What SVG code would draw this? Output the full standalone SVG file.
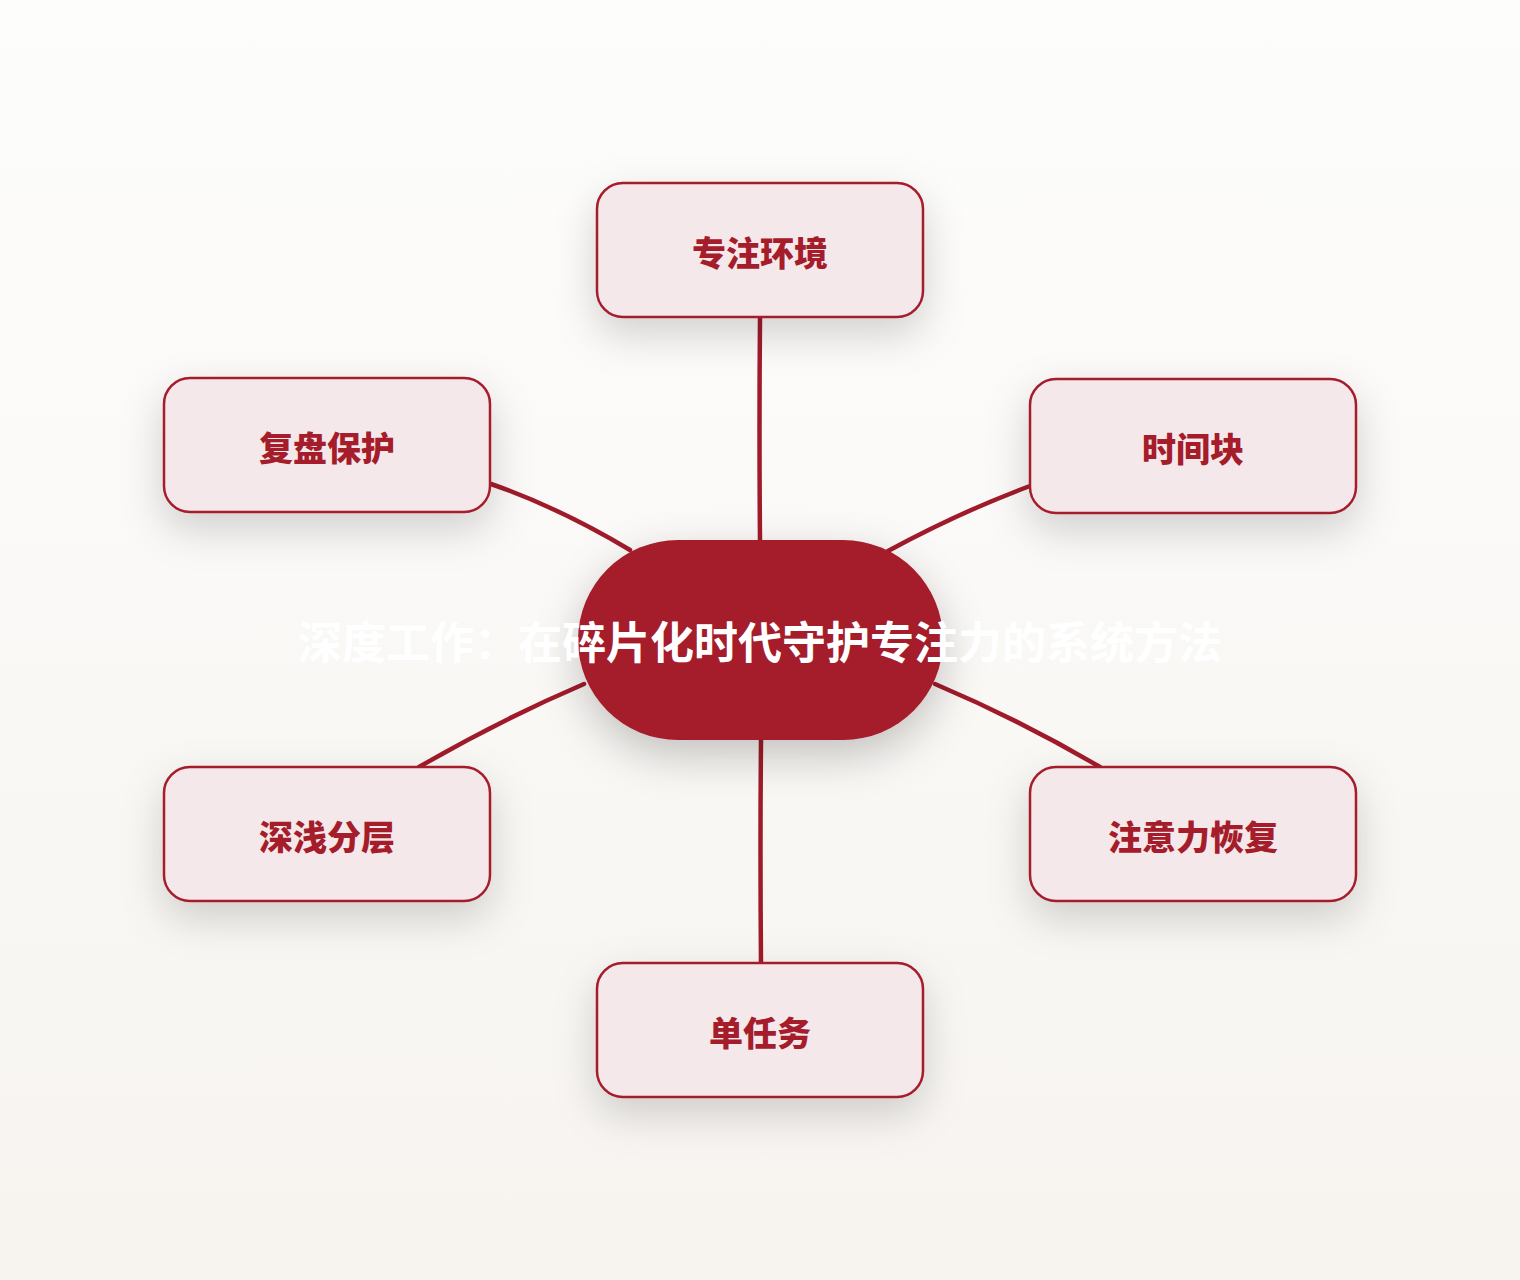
<svg xmlns="http://www.w3.org/2000/svg" width="1520" height="1280" viewBox="0 0 1520 1280">
<defs>
<linearGradient id="bg" x1="0" y1="0" x2="0" y2="1">
<stop offset="0" stop-color="#fdfdfc"/>
<stop offset="1" stop-color="#f7f4f0"/>
</linearGradient>
<filter id="shadow" x="-40%" y="-40%" width="180%" height="200%">
<feDropShadow dx="0" dy="16" stdDeviation="20" flood-color="#000" flood-opacity="0.17"/>
</filter>
<filter id="shadowC" x="-40%" y="-40%" width="180%" height="200%">
<feDropShadow dx="0" dy="16" stdDeviation="22" flood-color="#000" flood-opacity="0.22"/>
</filter>
</defs>
<style>
.edge{fill:none;stroke:#a01b2a;stroke-width:4.5;stroke-linecap:round}
.box{fill:#f5e8eb;stroke:#a51c2b;stroke-width:2.5}
.lbl{font-family:"Noto Sans CJK SC","Noto Sans",sans-serif;font-weight:900;font-size:34px;fill:#a51c2b;text-anchor:middle}
.ctr{font-family:"Noto Sans CJK SC","Noto Sans",sans-serif;font-weight:700;font-size:44px;fill:#ffffff;text-anchor:middle}
</style>
<rect width="1520" height="1280" fill="url(#bg)"/>
<g id="connectors">
<path class="edge" d="M760,318 Q759,430 760,541"/>
<path class="edge" d="M491,484 Q560,508 630,550"/>
<path class="edge" d="M1030,486 Q960,512 888,551"/>
<path class="edge" d="M584,684 Q500,720 419,767"/>
<path class="edge" d="M935,684 Q1020,720 1100,767"/>
<path class="edge" d="M761,740 Q760,850 761,963"/>
</g>
<g id="center">
<rect x="578" y="540" width="365" height="200" rx="100" ry="100" fill="#a51c2b" filter="url(#shadowC)"/>
<text class="ctr" x="760" y="659">深度工作：在碎片化时代守护专注力的系统方法</text>
</g>
<g id="node-zhuanzhu">
<rect class="box" x="597" y="183" width="326" height="134" rx="26" filter="url(#shadow)"/>
<text class="lbl" x="760" y="266">专注环境</text>
</g>
<g id="node-fupan">
<rect class="box" x="164" y="378" width="326" height="134" rx="26" filter="url(#shadow)"/>
<text class="lbl" x="327" y="461">复盘保护</text>
</g>
<g id="node-shijian">
<rect class="box" x="1030" y="379" width="326" height="134" rx="26" filter="url(#shadow)"/>
<text class="lbl" x="1193" y="462">时间块</text>
</g>
<g id="node-shenqian">
<rect class="box" x="164" y="767" width="326" height="134" rx="26" filter="url(#shadow)"/>
<text class="lbl" x="327" y="850">深浅分层</text>
</g>
<g id="node-huifu">
<rect class="box" x="1030" y="767" width="326" height="134" rx="26" filter="url(#shadow)"/>
<text class="lbl" x="1193" y="850">注意力恢复</text>
</g>
<g id="node-danrenwu">
<rect class="box" x="597" y="963" width="326" height="134" rx="26" filter="url(#shadow)"/>
<text class="lbl" x="760" y="1046">单任务</text>
</g>
</svg>
